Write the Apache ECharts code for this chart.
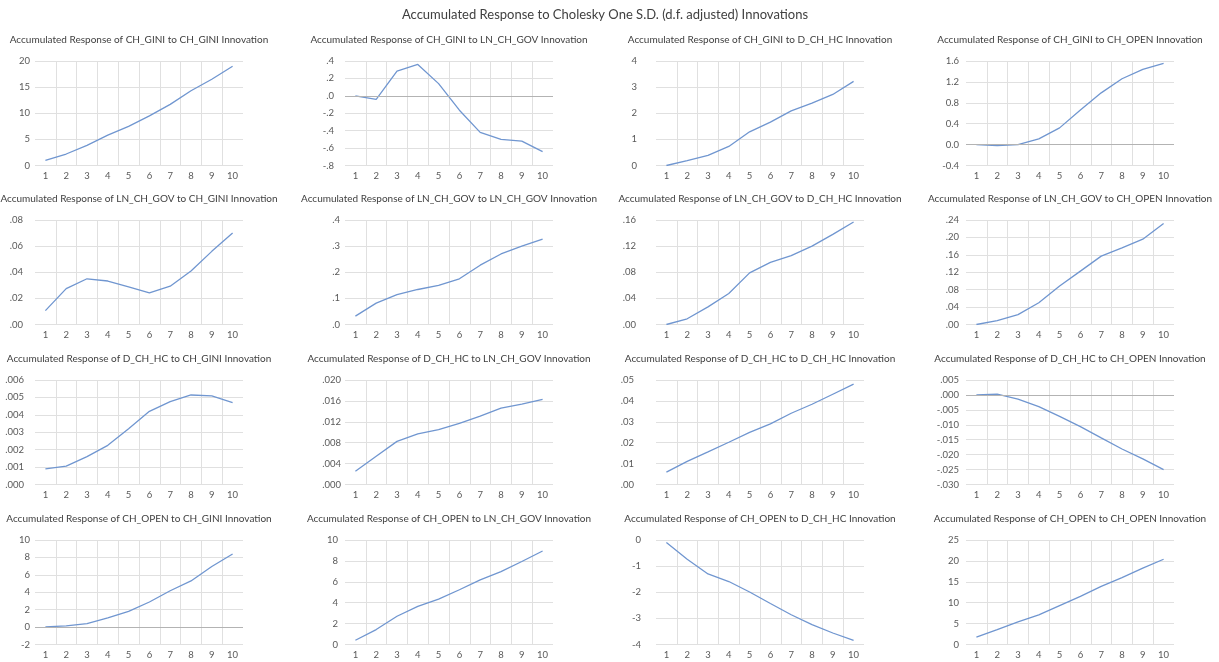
<!DOCTYPE html>
<html>
<head>
<meta charset="utf-8">
<script src="https://cdn.jsdelivr.net/npm/echarts@6/dist/echarts.min.js"></script>
<style>
html,body{margin:0;padding:0;background:#fff;}
#chart{width:1219px;height:662px;}
</style>
</head>
<body>
<div id="chart"></div>
<script>
// ---------- data ----------
const periods = ['1','2','3','4','5','6','7','8','9','10'];
const variables = ['CH_GINI','LN_CH_GOV','D_CH_HC','CH_OPEN'];
const mainTitle = 'Accumulated Response to Cholesky One S.D. (d.f. adjusted) Innovations';

// responses of CH_GINI
const gini_gini = [0.96, 2.2, 3.85, 5.8, 7.5, 9.5, 11.7, 14.3, 16.5, 19.0];
const gini_gov  = [0.0, -0.04, 0.285, 0.36, 0.14, -0.165, -0.42, -0.50, -0.52, -0.64];
const gini_hc   = [0.0, 0.19, 0.39, 0.73, 1.29, 1.66, 2.09, 2.39, 2.72, 3.22];
const gini_open = [0.0, -0.02, 0.0, 0.11, 0.32, 0.66, 0.99, 1.26, 1.44, 1.555];
// responses of LN_CH_GOV
const gov_gini = [0.0106, 0.0275, 0.035, 0.0333, 0.0288, 0.0242, 0.0293, 0.041, 0.056, 0.070];
const gov_gov  = [0.032, 0.082, 0.114, 0.134, 0.150, 0.175, 0.227, 0.27, 0.30, 0.327];
const gov_hc   = [0.0, 0.0088, 0.027, 0.0475, 0.079, 0.095, 0.1055, 0.12, 0.138, 0.157];
const gov_open = [0.0, 0.009, 0.0227, 0.05, 0.0886, 0.1226, 0.157, 0.176, 0.196, 0.232];
// responses of D_CH_HC
const hc_gini = [0.0009, 0.00105, 0.0016, 0.00225, 0.0032, 0.0042, 0.00476, 0.00514, 0.00509, 0.0047];
const hc_gov  = [0.00254, 0.0054, 0.00825, 0.0097, 0.0105, 0.0117, 0.0131, 0.0146, 0.0154, 0.0163];
const hc_hc   = [0.0059, 0.0111, 0.0156, 0.0202, 0.0249, 0.029, 0.0341, 0.0384, 0.0432, 0.048];
const hc_open = [0.0, 0.0003, -0.0014, -0.0039, -0.0072, -0.0106, -0.0144, -0.0181, -0.0214, -0.025];
// responses of CH_OPEN
const open_gini = [0.02, 0.13, 0.4, 1.05, 1.8, 2.88, 4.17, 5.3, 6.95, 8.4];
const open_gov  = [0.41, 1.43, 2.7, 3.65, 4.35, 5.24, 6.19, 6.98, 7.94, 8.95];
const open_hc   = [-0.1, -0.74, -1.3, -1.59, -1.99, -2.43, -2.86, -3.24, -3.56, -3.84];
const open_open = [1.75, 3.57, 5.4, 7.1, 9.3, 11.5, 13.9, 16.0, 18.25, 20.4];

const seriesRows = [
  [gini_gini, gini_gov, gini_hc, gini_open],
  [gov_gini, gov_gov, gov_hc, gov_open],
  [hc_gini, hc_gov, hc_hc, hc_open],
  [open_gini, open_gov, open_hc, open_open]
];

// y-axis ticks: [min, max, interval, decimals, stripLeadingZero]
const yTicks = [
  [[0, 20, 5, 0, false], [-0.8, 0.4, 0.2, 1, true], [0, 4, 1, 0, false], [-0.4, 1.6, 0.4, 1, false]],
  [[0, 0.08, 0.02, 2, true], [0, 0.4, 0.1, 1, true], [0, 0.16, 0.04, 2, true], [0, 0.24, 0.04, 2, true]],
  [[0, 0.006, 0.001, 3, true], [0, 0.020, 0.004, 3, true], [0, 0.05, 0.01, 2, true], [-0.030, 0.005, 0.005, 3, true]],
  [[-2, 10, 2, 0, false], [0, 10, 2, 0, false], [-4, 0, 1, 0, false], [0, 25, 5, 0, false]]
];

// ---------- layout ----------
const colLeft = [35, 345, 656, 966];
const plotW = 208;
const rowTop = [61, 220, 380, 540];
const plotH = 104.5;
const labelGap = [
  [5, 11, 19, 7],
  [12, 5, 20, 7],
  [11, 4, 22, 7],
  [5, 7, 15, 7]
];
const FONT = 'Lato';
const lineColor = '#7096d0';

function fmt(dec, strip) {
  return function (v) {
    if (Math.abs(v) < 1e-12) v = 0;
    let s = v.toFixed(dec);
    if (strip) s = s.replace(/^(-?)0\./, '$1.');
    return s;
  };
}

const titles = [{
  text: mainTitle,
  left: 605, top: 8, padding: 0, textAlign: 'center',
  textStyle: {fontFamily: FONT, fontSize: 13, fontWeight: 'normal', color: '#404040'}
}];
const grids = [], xAxes = [], yAxes = [], series = [];

for (let r = 0; r < 4; r++) {
  for (let c = 0; c < 4; c++) {
    const i = r * 4 + c;
    const t = yTicks[r][c];
    titles.push({
      text: 'Accumulated Response of ' + variables[r] + ' to ' + variables[c] + ' Innovation',
      left: colLeft[c] + plotW / 2, top: rowTop[r] - 26, padding: 0, textAlign: 'center',
      textStyle: {fontFamily: FONT, fontSize: 10, fontWeight: 'normal', color: '#404040'}
    });
    grids.push({left: colLeft[c], top: rowTop[r], width: plotW, height: plotH, containLabel: false});
    xAxes.push({
      type: 'category', gridIndex: i, data: periods, boundaryGap: true,
      axisLine: {show: false}, axisTick: {show: false},
      axisLabel: {interval: 0, margin: 5, fontFamily: FONT, fontSize: 9.5, color: '#595959'},
      splitLine: {show: true, interval: 0, showMinLine: false, showMaxLine: false,
                  lineStyle: {color: '#e0e0e0', width: 1}}
    });
    yAxes.push({
      type: 'value', gridIndex: i, min: t[0], max: t[1], interval: t[2],
      axisLine: {show: false}, axisTick: {show: false},
      axisLabel: {margin: labelGap[r][c], fontFamily: FONT, fontSize: 9.5, color: '#595959',
                  formatter: fmt(t[3], t[4])},
      splitLine: {show: true, lineStyle: {color: '#e0e0e0', width: 1}}
    });
    const s = {
      type: 'line', xAxisIndex: i, yAxisIndex: i, data: seriesRows[r][c],
      symbol: 'none', smooth: false, animation: false,
      lineStyle: {color: lineColor, width: 1.3}
    };
    if (t[0] < 0 && t[1] > 0) {
      s.markLine = {
        silent: true, symbol: 'none', animation: false,
        label: {show: false},
        lineStyle: {color: '#b3b3b3', width: 1, type: 'solid'},
        data: [{yAxis: 0}]
      };
    }
    series.push(s);
  }
}

const chart = echarts.init(document.getElementById('chart'), null, {renderer: 'canvas'});
chart.setOption({
  backgroundColor: '#ffffff',
  animation: false,
  title: titles,
  grid: grids,
  xAxis: xAxes,
  yAxis: yAxes,
  series: series
});
</script>
</body>
</html>
